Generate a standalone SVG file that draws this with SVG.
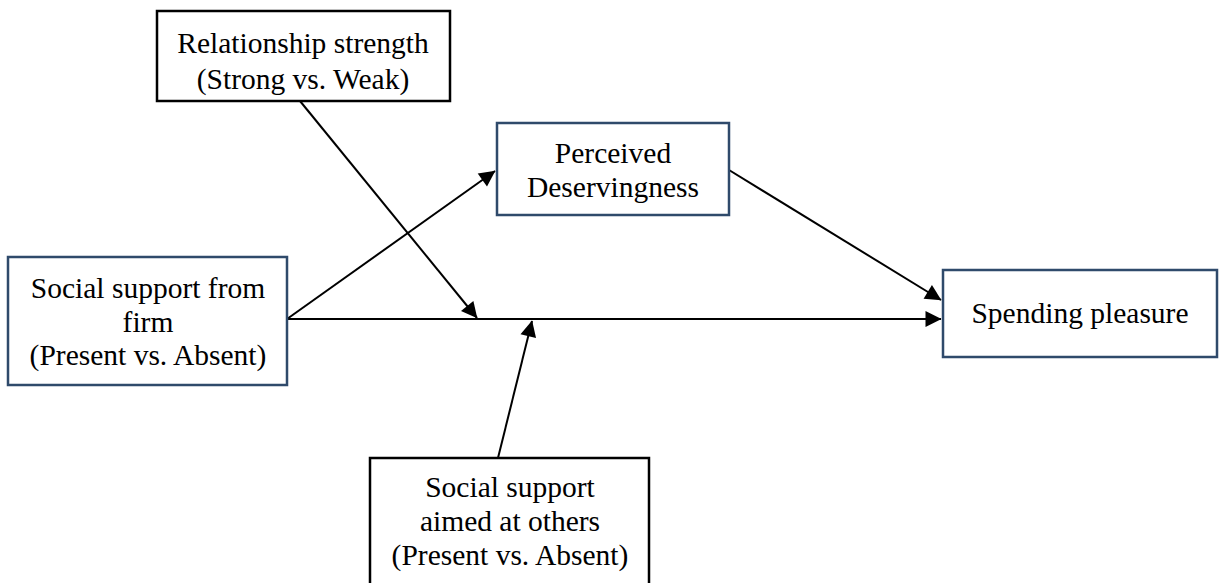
<svg xmlns="http://www.w3.org/2000/svg" width="1223" height="583" viewBox="0 0 1223 583">
<style>
.k{fill:#fff;stroke:#000;stroke-width:2.5}
.b{fill:#fff;stroke:#2f4a6b;stroke-width:2.5}
text{font-family:'Liberation Serif','Times New Roman','DejaVu Serif',serif;font-size:29.5px;fill:#000;text-anchor:middle}
.c line{stroke:#000;stroke-width:2;marker-end:url(#a)}
</style>
<defs>
<marker id="a" viewBox="0 0 10 10" refX="10" refY="5" markerWidth="8" markerHeight="8" markerUnits="userSpaceOnUse" orient="auto" style="overflow:visible">
<path d="M0,0 L10,5 L0,10 z" transform="scale(2) translate(-4.7,-2.5)" fill="#000"/>
</marker>
</defs>
<rect width="1223" height="583" fill="#fff"/>
<g class="c">
<line x1="287" y1="319" x2="941" y2="319"/>
<line x1="287" y1="319" x2="495" y2="171"/>
<line x1="729" y1="170" x2="941" y2="300"/>
<line x1="300" y1="101" x2="477" y2="318"/>
<line x1="498" y1="458" x2="532" y2="321"/>
</g>
<g id="relationship"><rect class="k" x="157" y="11" width="293" height="90"/><text x="303" y="53">Relationship strength</text><text x="303" y="89">(Strong vs. Weak)</text></g>
<g id="deservingness"><rect class="b" x="497" y="123" width="232" height="92"/><text x="613" y="163">Perceived</text><text x="613" y="197">Deservingness</text></g>
<g id="firm"><rect class="b" x="8" y="257" width="279" height="128"/><text x="148" y="298">Social support from</text><text x="148" y="332">firm</text><text x="148" y="365">(Present vs. Absent)</text></g>
<g id="spending"><rect class="b" x="943" y="270" width="274" height="87"/><text x="1080" y="323">Spending pleasure</text></g>
<g id="others"><rect class="k" x="370" y="458" width="279" height="130"/><text x="510" y="497">Social support</text><text x="510" y="531">aimed at others</text><text x="510" y="565">(Present vs. Absent)</text></g>
</svg>
